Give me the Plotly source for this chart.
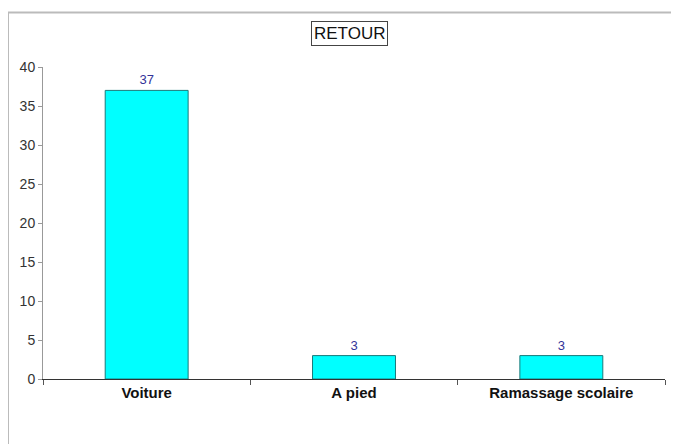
import plotly.graph_objects as go

categories = ["Voiture", "A pied", "Ramassage scolaire"]
values = [37, 3, 3]
title_text = "RETOUR"
y_ticks = [0, 5, 10, 15, 20, 25, 30, 35, 40]

# page body has an 8px margin, so the figure is shrunk and shifted
OFF = 8
W, H = 679 - OFF, 444 - OFF
L, R, T, B = 43 - OFF, 14, 67 - OFF, 65
pw = W - L - R
ph = H - T - B

fig = go.Figure()
fig.add_trace(go.Bar(
    x=categories, y=values,
    width=0.4,
    marker=dict(color="#00FFFF", line=dict(color="#1a7a7a", width=1)),
    text=[str(v) for v in values],
    textposition="outside",
    cliponaxis=False,
    textfont=dict(family="Arial, Liberation Sans", size=13, color="#333399"),
))

def px_x(x):
    return (x - OFF - L) / pw

def px_y(y):
    return (H - B - (y - OFF)) / ph

fig.update_layout(
    width=W, height=H,
    margin=dict(l=L, r=R, t=T, b=B),
    paper_bgcolor="white", plot_bgcolor="white",
    showlegend=False,
    font=dict(family="Arial, Liberation Sans", size=12, color="#222"),
    xaxis=dict(
        type="category",
        showline=True, linecolor="#333", linewidth=1,
        ticks="outside", tickson="boundaries", ticklen=5, tickcolor="#555",
        tickfont=dict(family="Arial, Liberation Sans", size=15, color="#111", weight="bold"),
        showgrid=False, zeroline=False,
    ),
    yaxis=dict(
        range=[0, 40], tickvals=y_ticks,
        showline=True, linecolor="#999", linewidth=1,
        ticks="outside", ticklen=4, tickcolor="#999",
        tickfont=dict(family="Arial, Liberation Sans", size=14, color="#333"),
        showgrid=False, zeroline=False,
    ),
    annotations=[dict(
        text=title_text, xref="paper", yref="paper",
        x=px_x(349.5), y=px_y(34), xanchor="center", yanchor="middle",
        showarrow=False, bordercolor="#444", borderwidth=1, borderpad=2,
        font=dict(family="Arial, Liberation Sans", size=17, color="#111"),
    )],
    shapes=[
        dict(type="line", xref="paper", yref="paper",
             x0=px_x(8), x1=px_x(700), y0=px_y(12.5), y1=px_y(12.5),
             line=dict(color="#bbbbbb", width=2)),
        dict(type="line", xref="paper", yref="paper",
             x0=px_x(8.5), x1=px_x(8.5), y0=px_y(12), y1=px_y(460),
             line=dict(color="#bbbbbb", width=1)),
    ],
)

fig.write_html("out.html")
